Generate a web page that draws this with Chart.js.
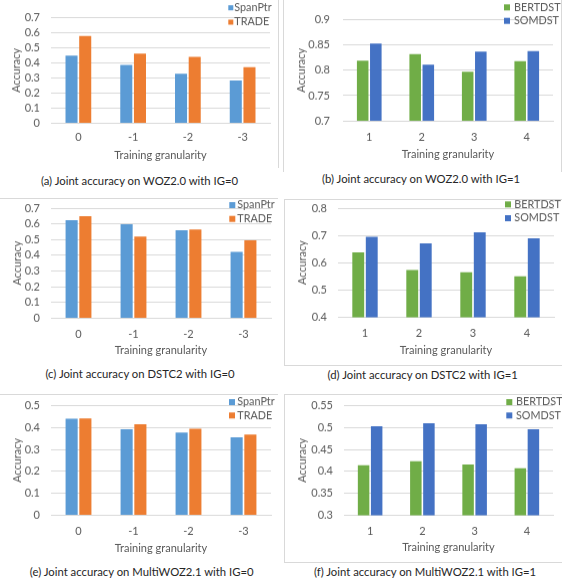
<!DOCTYPE html>
<html>
<head>
<meta charset="utf-8">
<script src="https://cdn.jsdelivr.net/npm/chart.js@4.4.1/dist/chart.umd.min.js"></script>
<style>
    body { margin: 0; background: #fff; width: 562px; height: 578px; position: relative; overflow: hidden; font-family: Lato, sans-serif; }
    canvas { position: absolute; }
    .cap { position: absolute; font-size: 11.3px; color: #262626; white-space: nowrap; transform: translate(-50%, -50%); }
    .ln { position: absolute; background: #d9d9d9; }
</style>
</head>
<body>
<script>
// categories
const granIG0 = ['0', '-1', '-2', '-3'];
const granIG1 = ['1', '2', '3', '4'];
const ig0Names = ['SpanPtr', 'TRADE'];
const ig1Names = ['BERTDST', 'SOMDST'];

// WOZ2.0
const wozSpanPtr = [0.448, 0.386, 0.329, 0.284];
const wozTrade = [0.579, 0.462, 0.441, 0.371];
const wozBert = [0.819, 0.832, 0.797, 0.818];
const wozSom = [0.853, 0.811, 0.837, 0.838];

// DSTC2
const dstcSpanPtr = [0.624, 0.598, 0.560, 0.422];
const dstcTrade = [0.649, 0.520, 0.564, 0.496];
const dstcBert = [0.638, 0.573, 0.565, 0.550];
const dstcSom = [0.695, 0.671, 0.711, 0.689];

// MultiWOZ2.1
const mwozSpanPtr = [0.441, 0.392, 0.378, 0.356];
const mwozTrade = [0.442, 0.415, 0.395, 0.368];
const mwozBert = [0.414, 0.423, 0.416, 0.407];
const mwozSom = [0.503, 0.510, 0.508, 0.496];

const BLUE = '#5b9bd5', ORANGE = '#ed7d31', GREEN = '#70ad47', DARKBLUE = '#4472c4';
const GRID = '#d9d9d9', TEXT = '#595959';
const FONT = 'Lato';

// box = canvas [x, y, w], area = [left, right, top, bottom] in page pixels
const panels = [
    { labels: granIG0, names: ig0Names, values: [wozSpanPtr, wozTrade], colors: [BLUE, ORANGE], min: 0, max: 0.7, step: 0.1,
      box: [0, 0, 278], area: [51, 270, 13, 123], tickY: 137, titleY: 155, yTitleX: 16.7, yPad: 11,
      legend: { x: 228.3, y: 7.7, gap: 14.3, size: 5, tx: 6 }, caption: ['(a) Joint accuracy on WOZ2.0 with IG=0', 139.5, 180] },
    { labels: granIG1, names: ig1Names, values: [wozBert, wozSom], colors: [GREEN, DARKBLUE], min: 0.7, max: 0.9, step: 0.05,
      box: [281, 0, 281], area: [343, 553, 13, 121], tickY: 137, titleY: 154.3, yTitleX: 301.7, yPad: 13,
      legend: { x: 504, y: 7.3, gap: 13.4, size: 6, tx: 10 }, caption: ['(b) Joint accuracy on WOZ2.0 with IG=1', 421, 178.3] },
    { labels: granIG0, names: ig0Names, values: [dstcSpanPtr, dstcTrade], colors: [BLUE, ORANGE], min: 0, max: 0.7, step: 0.1,
      box: [0, 190, 278], area: [51, 271, 208, 318], tickY: 334, titleY: 350, yTitleX: 17.3, yPad: 11,
      legend: { x: 229.3, y: 205, gap: 13.7, size: 6, tx: 8 }, caption: ['(c) Joint accuracy on DSTC2 with IG=0', 140, 372.7] },
    { labels: granIG1, names: ig1Names, values: [dstcBert, dstcSom], colors: [GREEN, DARKBLUE], min: 0.4, max: 0.8, step: 0.1,
      box: [281, 190, 281], area: [338, 554, 208, 317], tickY: 333.3, titleY: 350, yTitleX: 302.7, yPad: 11,
      legend: { x: 505, y: 204.3, gap: 13.7, size: 6, tx: 9.3 }, caption: ['(d) Joint accuracy on DSTC2 with IG=1', 422.7, 374.3] },
    { labels: granIG0, names: ig0Names, values: [mwozSpanPtr, mwozTrade], colors: [BLUE, ORANGE], min: 0, max: 0.5, step: 0.1,
      box: [0, 388, 278], area: [51, 271, 405, 515], tickY: 531.3, titleY: 548, yTitleX: 17.3, yPad: 11,
      legend: { x: 229, y: 402, gap: 13.3, size: 6, tx: 8.3 }, caption: ['(e) Joint accuracy on MultiWOZ2.1 with IG=0', 141.7, 570.5] },
    { labels: granIG1, names: ig1Names, values: [mwozBert, mwozSom], colors: [GREEN, DARKBLUE], min: 0.3, max: 0.55, step: 0.05,
      box: [281, 388, 281], area: [344, 553, 405, 515], tickY: 531.3, titleY: 547, yTitleX: 302.7, yPad: 11,
      legend: { x: 506.3, y: 402, gap: 13.3, size: 6, tx: 9.7 }, caption: ['(f) Joint accuracy on MultiWOZ2.1 with IG=1', 425, 571] },
];

// legend sitting in the top right corner, boxes stacked like excel does it
const cornerLegend = {
    id: 'cornerLegend',
    afterDraw(chart, args, opts) {
        const ctx = chart.ctx;
        ctx.save();
        ctx.font = '10.8px ' + FONT;
        ctx.textBaseline = 'middle';
        chart.data.datasets.forEach((ds, i) => {
            const y = opts.y + i * opts.gap;
            ctx.fillStyle = ds.backgroundColor;
            ctx.fillRect(opts.x, y - opts.size / 2, opts.size, opts.size);
            ctx.fillStyle = TEXT;
            ctx.fillText(ds.label, opts.x + opts.tx, y);
        });
        ctx.restore();
    }
};

const tickFont = { family: FONT, size: 11 };
const LH = 11 * 1.2;

function makeChart(p) {
    const [bx, by, bw] = p.box;
    const [L, R, T, B] = p.area;
    const bottom = p.titleY + LH / 2;
    const bh = bottom - by;
    const cv = document.createElement('canvas');
    cv.style.left = bx + 'px';
    cv.style.top = by + 'px';
    cv.style.width = bw + 'px';
    cv.style.height = bh + 'px';
    cv.width = bw;
    cv.height = bh;
    document.body.appendChild(cv);

    new Chart(cv, {
        type: 'bar',
        data: {
            labels: p.labels,
            datasets: p.names.map((n, i) => ({
                label: n,
                data: p.values[i],
                backgroundColor: p.colors[i],
                borderWidth: 0,
                categoryPercentage: 0.5,
                barPercentage: 0.88
            }))
        },
        options: {
            responsive: false,
            animation: false,
            layout: { padding: { left: 0, right: bx + bw - R, top: T - by, bottom: 0 } },
            plugins: {
                legend: { display: false },
                tooltip: { enabled: false },
                cornerLegend: { x: p.legend.x - bx, y: p.legend.y - by, gap: p.legend.gap, size: p.legend.size, tx: p.legend.tx }
            },
            scales: {
                x: {
                    grid: { display: false, drawTicks: false },
                    border: { color: GRID },
                    ticks: { color: TEXT, font: tickFont, padding: p.tickY - B - LH / 2 },
                    title: { display: true, text: 'Training granularity', color: TEXT, font: tickFont, padding: 0 },
                    afterFit: s => { s.height = bottom - B; }
                },
                y: {
                    min: p.min,
                    max: p.max,
                    grid: { color: GRID, drawTicks: false },
                    border: { display: false },
                    ticks: {
                        stepSize: p.step,
                        autoSkip: false,
                        color: TEXT,
                        font: tickFont,
                        padding: p.yPad,
                        callback: v => String(Number(v.toFixed(2)))
                    },
                    title: { display: true, text: 'Accuracy', color: TEXT, font: tickFont, padding: { top: p.yTitleX - bx - LH / 2, bottom: 0 } },
                    afterFit: s => { s.width = L - bx; }
                }
            }
        },
        plugins: [cornerLegend]
    });

    const cap = document.createElement('div');
    cap.className = 'cap';
    cap.textContent = p.caption[0];
    cap.style.left = p.caption[1] + 'px';
    cap.style.top = p.caption[2] + 'px';
    document.body.appendChild(cap);
}

// light chart frames, partly cropped in the original figure
[
    [278, 0, 1, 168], [283, 0, 1, 172], [561, 0, 1, 172],
    [0, 198, 278, 1],
    [284, 199, 1, 166], [284, 199, 278, 1], [284, 365, 278, 1],
    [0, 394, 278, 1],
    [284, 394, 278, 1], [284, 394, 1, 168], [284, 562, 278, 1]
].forEach(([x, y, w, h]) => {
    const d = document.createElement('div');
    d.className = 'ln';
    d.style.cssText = `left:${x}px;top:${y}px;width:${w}px;height:${h}px`;
    document.body.appendChild(d);
});

panels.forEach(makeChart);
</script>
</body>
</html>
